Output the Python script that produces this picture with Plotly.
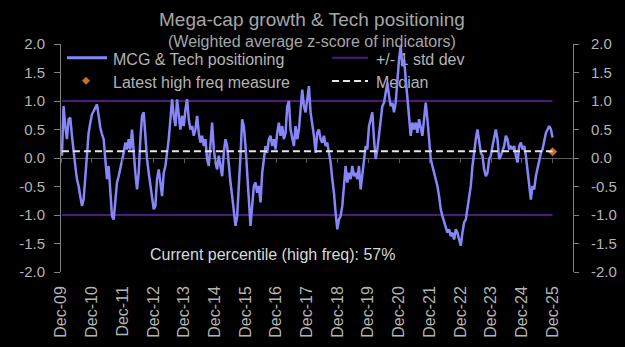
import pandas as pd
import plotly.graph_objects as go

# ---------------- data ----------------
mcg_values = [
    0.04, 0.91, 0.56, 0.33, 0.68, 0.71, 0.39, 0.09, -0.14, -0.37,
    -0.49, -0.67, -0.84, -0.73, -0.37, 0.09, 0.44, 0.62, 0.77, 0.82,
    0.88, 0.94, 0.74, 0.53, 0.42, 0.33, -0.02, -0.37, -0.14, -0.67,
    -1.02, -1.08, -0.67, -0.43, -0.32, -0.20, -0.08, 0.09, 0.27, 0.15,
    0.33, 0.15, 0.50, 0.04, -0.26, -0.55, -0.26, 0.33, 0.74, 0.80,
    0.33, -0.02, -0.26, -0.49, -0.73, -0.90, -0.84,
    -0.37, -0.20, -0.43, -0.67, -0.26, -0.14, 0.09, 0.33, 0.68, 1.03,
    0.74, 0.56, 1.03, 0.74, 0.50, 0.74, 0.56, 0.85, 1.03, 0.68,
    0.50, 0.56, 0.39, 0.50, 0.74, 0.44, 0.27, 0.39, 0.21, 0.33,
    -0.02, -0.14, 0.33, 0.62, 0.15, -0.08, -0.20, 0.04, -0.14, -0.32,
    0.09, 0.33, 0.21, -0.20, -0.43, -0.67, -0.96, -1.19, -1.02, -0.55,
    0.04, 0.68, 0.56, 0.21, -0.26, -0.78, -1.19, -0.84, -0.49,
    -0.43, -0.61, -0.49, -0.78, -0.26, 0.04, 0.21, 0.09, 0.33, 0.39,
    0.21, 0.33, 0.15, 0.44, 0.62, 0.39, 0.56, 0.33, 0.44, 0.91,
    1.00, 0.50, 0.33, 0.21, 0.56, 0.33, 0.50, 0.80, 1.20, 0.91,
    0.80, 1.03, 1.26, 0.80, 0.62, 0.39, 0.09, 0.44, 0.50, 0.33,
    0.27, 0.39, 0.21, 0.27, 0.09, -0.08, -0.37, -0.61, -0.96, -1.25,
    -1.08, -1.02, -0.84, -0.49, -0.14, -0.43, -0.26, -0.37, -0.14, -0.32,
    -0.26, -0.37, -0.14, -0.55, -0.26, 0.04, 0.21, 0.15, 0.56, 0.68,
    0.80, 0.33, -0.02, 0.15, 0.44, 0.74, 0.91, 0.97, 1.15, 1.32,
    1.09, 0.91, 0.97, 0.80, 0.97, 1.38, 1.73, 1.96, 1.61, 1.73,
    1.38, 1.03, 0.68, 0.39, 0.62, 0.50, 0.62, 0.44, 0.68, 0.56,
    0.39, 0.68, 0.97, 0.68, 0.33, -0.02, -0.14, -0.26, -0.37, -0.49,
    -0.67, -0.90, -1.02, -1.13, -1.25, -1.31, -1.25, -1.37, -1.31, -1.43,
    -1.25, -1.31, -1.43, -1.54, -1.31, -1.13, -1.08, -0.90, -0.73, -0.49,
    -0.14, 0.15, 0.33, 0.50, 0.27, 0.09, 0.04, -0.20, -0.32, -0.26,
    -0.02, 0.04, 0.21, 0.39, 0.50, 0.33, -0.02, 0.04, 0.15, 0.21,
    0.39, 0.33, 0.15, 0.21, 0.15, 0.21, 0.04, -0.08, 0.21, 0.27,
    0.15, 0.21, 0.04, -0.20, -0.43, -0.73, -0.49, -0.55, -0.32, -0.20,
    -0.08, 0.09, 0.15, 0.33, 0.44, 0.50, 0.56, 0.50, 0.36,
]
series_start = "2009-12-10"
series_end = "2025-12-01"
median_value = 0.12
std_dev_levels = [1.0, -1.0]
latest_high_freq = 0.11
percentile_text = "Current percentile (high freq): 57%"
title_text = "Mega-cap growth & Tech positioning"
subtitle_text = "(Weighted average z-score of indicators)"
legend_labels = ["MCG & Tech positioning", "+/- 1 std dev",
                 "Latest high freq measure", "Median"]
tick_years = list(range(2009, 2026))
x_tick_vals = [f"{y}-12-01" for y in tick_years]
x_tick_text = [f"Dec-{y % 100:02d}" for y in tick_years]
y_tick_vals = [2.0, 1.5, 1.0, 0.5, 0.0, -0.5, -1.0, -1.5, -2.0]
y_tick_text = [f"{v:.1f}" for v in y_tick_vals]

dates = pd.date_range(series_start, series_end, periods=len(mcg_values))

# ---------------- styling ----------------
W, H = 625, 347
ML, MR, MT, MB = 61, 52, 44, 75
PW, PH = W - ML - MR, H - MT - MB
X_RANGE = ["2009-11-29", "2026-08-01"]
FONT = "Liberation Sans, Arial, sans-serif"
LINE_C = "#8686f8"
PURPLE = "#4b1c80"
ORANGE = "#c8702d"
TXT = "#b3b3b3"
AX = "#808080"


def px(x):
    return (x - ML) / PW


def py(y):
    return (H - MB - y) / PH


fig = go.Figure()
for lvl in std_dev_levels:
    fig.add_trace(go.Scatter(x=[dates[0], dates[-1]], y=[lvl, lvl], mode="lines",
                             line=dict(color=PURPLE, width=2), showlegend=False,
                             hoverinfo="skip"))
fig.add_trace(go.Scatter(x=dates, y=mcg_values, mode="lines",
                         line=dict(color=LINE_C, width=2.5), showlegend=False))
fig.add_trace(go.Scatter(x=[dates[0], dates[-1]], y=[median_value, median_value],
                         xaxis="x2", mode="lines",
                         line=dict(color="#e6e6e6", width=2, dash="7px,4px"),
                         showlegend=False))
fig.add_trace(go.Scatter(x=[dates[-1]], y=[latest_high_freq], yaxis="y2",
                         mode="markers",
                         marker=dict(symbol="diamond", size=7, color=ORANGE),
                         showlegend=False))

yaxis_common = dict(range=[-2, 2], tickvals=y_tick_vals, ticktext=y_tick_text,
                    ticks="outside", tickcolor=AX, showline=True, linecolor=AX,
                    linewidth=1, showgrid=False, automargin=False,
                    tickfont=dict(family=FONT, size=15, color=TXT))

fig.update_layout(
    width=W, height=H, margin=dict(l=ML, r=MR, t=MT, b=MB),
    paper_bgcolor="black", plot_bgcolor="black", showlegend=False,
    xaxis=dict(type="date", range=X_RANGE, tickvals=x_tick_vals, ticktext=x_tick_text,
               tickangle=-90, ticks="", showline=False, showgrid=False, zeroline=False,
               automargin=False, ticklabelstandoff=10,
               tickfont=dict(family=FONT, size=16, color=TXT)),
    xaxis2=dict(type="date", range=X_RANGE, overlaying="x", anchor="free", position=0.5,
                tickvals=x_tick_vals, showticklabels=False, ticks="outside", ticklen=4,
                tickcolor="#595959", showline=False, showgrid=False, zeroline=False,
                automargin=False),
    yaxis=dict(**yaxis_common, ticklen=6, ticklabelstandoff=6, zeroline=True,
               zerolinecolor="#595959", zerolinewidth=1),
    yaxis2=dict(**yaxis_common, overlaying="y", side="right", anchor="x", ticklen=5,
                ticklabelstandoff=9, zeroline=False),
)

# titles and note
fig.add_annotation(x=px(312), y=py(19.5), xref="paper", yref="paper", text=title_text,
                   showarrow=False, xanchor="center", yanchor="middle",
                   font=dict(family=FONT, size=19, color="#a6a6a6"))
fig.add_annotation(x=px(312), y=py(41), xref="paper", yref="paper", text=subtitle_text,
                   showarrow=False, xanchor="center", yanchor="middle",
                   font=dict(family=FONT, size=16, color="#a6a6a6"))
fig.add_annotation(x=px(272), y=py(254), xref="paper", yref="paper", text=percentile_text,
                   showarrow=False, xanchor="center", yanchor="middle",
                   font=dict(family=FONT, size=16, color="#d9d9d9"))

# legend drawn behind the data (as in the reference)
shapes = []


def legend_text(x, y, text):
    return dict(type="rect", xref="paper", yref="paper", x0=px(x), x1=px(x + 190),
                y0=py(y + 8), y1=py(y - 8), line=dict(width=0),
                fillcolor="rgba(0,0,0,0)", layer="below",
                label=dict(text=text, textposition="middle left", padding=0,
                           font=dict(family=FONT, size=16, color=TXT)))


shapes.append(dict(type="line", xref="paper", yref="paper", x0=px(67), x1=px(107),
                   y0=py(57.7), y1=py(57.7), line=dict(color=LINE_C, width=3), layer="below"))
shapes.append(dict(type="line", xref="paper", yref="paper", x0=px(332), x1=px(368),
                   y0=py(57.7), y1=py(57.7), line=dict(color=PURPLE, width=2), layer="below"))
shapes.append(dict(type="line", xref="paper", yref="paper", x0=px(332), x1=px(368),
                   y0=py(81), y1=py(81), line=dict(color="#e6e6e6", width=2, dash="7px,4px"),
                   layer="below"))
dx, dy = 4 / PW, 4 / PH
cx, cy = px(86), py(80.7)
shapes.append(dict(type="path", xref="paper", yref="paper",
                   path=f"M {cx},{cy + dy} L {cx + dx},{cy} L {cx},{cy - dy} L {cx - dx},{cy} Z",
                   fillcolor=ORANGE, line=dict(width=0), layer="below"))
shapes.append(legend_text(110, 57.5, legend_labels[0]))
shapes.append(legend_text(373, 57.5, legend_labels[1]))
shapes.append(legend_text(110, 80.5, legend_labels[2]))
shapes.append(legend_text(373, 80.5, legend_labels[3]))
fig.update_layout(shapes=shapes)

fig.write_html("out.html")
